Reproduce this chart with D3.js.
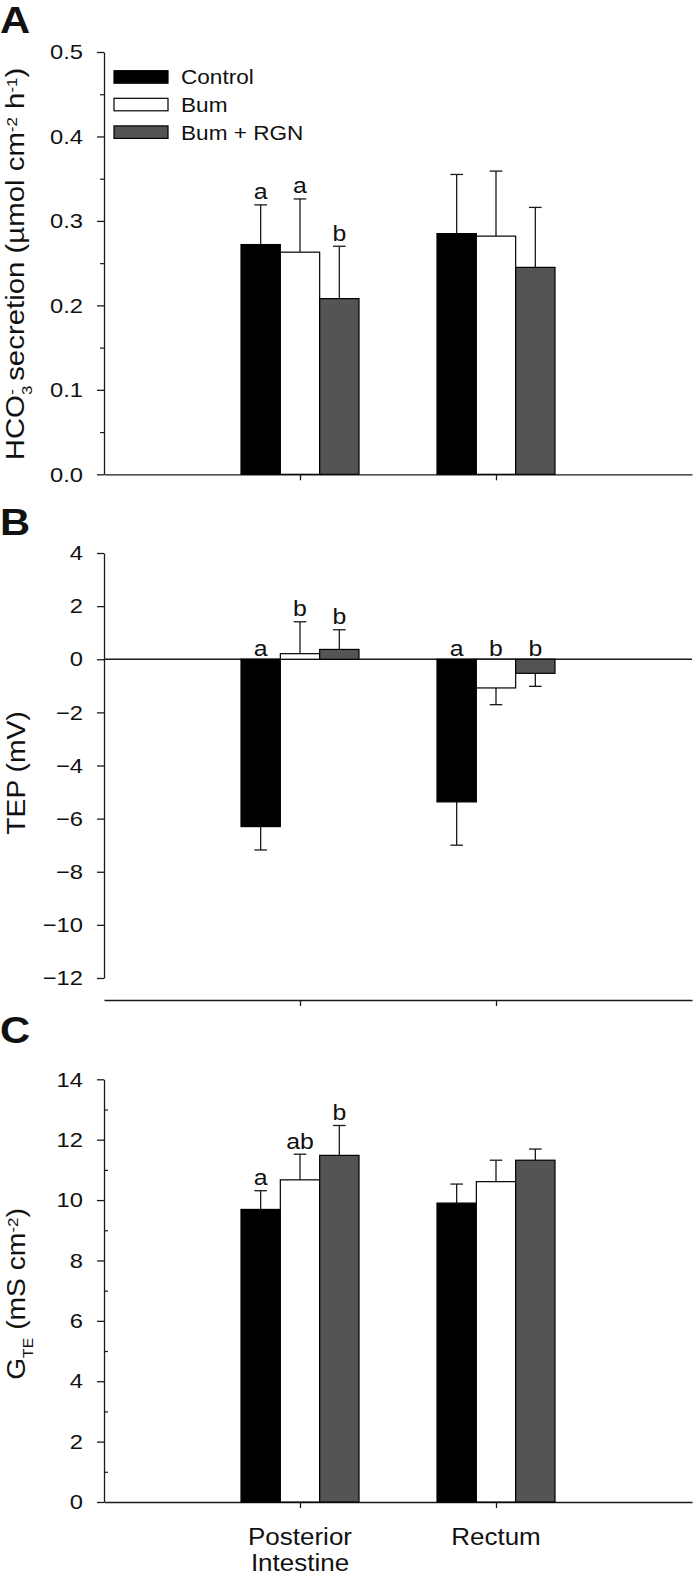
<!DOCTYPE html>
<html>
<head>
<meta charset="utf-8">
<script src="https://d3js.org/d3.v7.min.js"></script>
<style>
  body { margin: 0; background: #fff; }
  text { font-family: "Liberation Sans", Arial, sans-serif; fill: #111; }
</style>
</head>
<body>
<div id="chart"></div>
<script>

// ---- data ----
var categories = ["Posterior Intestine", "Rectum"];
var series = ["Control", "Bum", "Bum + RGN"];
var seriesColors = ["#000000", "#ffffff", "#545454"];

// panel A: HCO3- secretion
var hco3Mean = [[0.272, 0.263, 0.208], [0.285, 0.282, 0.245]];
var hco3Err = [[0.047, 0.063, 0.062], [0.070, 0.077, 0.071]];
var hco3Letters = [["a", "a", "b"], ["", "", ""]];
var hco3Ticks = [0, 0.1, 0.2, 0.3, 0.4, 0.5];
var hco3Minor = [0.05, 0.15, 0.25, 0.35, 0.45];

// panel B: TEP
var tepMean = [[-6.30, 0.21, 0.37], [-5.37, -1.08, -0.53]];
var tepErr = [[0.88, 1.20, 0.74], [1.63, 0.63, 0.49]];
var tepLetters = [["a", "b", "b"], ["a", "b", "b"]];
var tepTicks = [4, 2, 0, -2, -4, -6, -8, -10, -12];

// panel C: GTE
var gteMean = [[9.69, 10.67, 11.48], [9.90, 10.61, 11.32]];
var gteErr = [[0.62, 0.85, 0.99], [0.63, 0.71, 0.37]];
var gteLetters = [["a", "ab", "b"], ["", "", ""]];
var gteTicks = [0, 2, 4, 6, 8, 10, 12, 14];
var gteMinor = [1, 3, 5, 7, 9, 11, 13];

// ---- layout ----
var W = 694, H = 1575;
var K = 1.13;          // the original font is a little wider than Arial
var axisX = 104, rightX = 692;
var ink = "#1a1a1a";

var svg = d3.select("#chart").append("svg")
  .attr("width", W).attr("height", H);

// x: categories sit at 1 and 2 on a 0..3 scale
var xCat = d3.scaleLinear().domain([0, 3]).range([axisX, rightX]);
var xBar = d3.scaleBand().domain(series).range([-59, 59]);

function label(g, x, y, s, size, anchor, rot) {
  return g.append("text")
    .attr("transform", "translate(" + x + "," + y + ")" + (rot ? " rotate(" + rot + ")" : "") + " scale(" + K + ",1)")
    .attr("text-anchor", anchor)
    .style("font-size", size + "px")
    .text(s);
}

function drawPanel(p) {
  var g = svg.append("g");
  var y = d3.scaleLinear().domain(p.domain).range(p.range);

  // minor ticks
  if (p.minor) {
    var mg = g.append("g").attr("transform", "translate(" + axisX + ",0)")
      .call(d3.axisLeft(y).tickValues(p.minor).tickSize(p.minorSize).tickFormat(""));
    mg.select(".domain").remove();
    mg.selectAll("line").attr("stroke", ink).attr("stroke-width", 1.2);
  }

  // major ticks + labels
  var yg = g.append("g").attr("transform", "translate(" + axisX + ",0)")
    .attr("font-size", 21)
    .call(d3.axisLeft(y).tickValues(p.ticks).tickSize(7).tickSizeOuter(0).tickFormat(d3.format(p.fmt)));
  yg.attr("font-size", 21).attr("font-family", null);
  yg.select(".domain").attr("stroke", ink).attr("stroke-width", 1.3);
  yg.selectAll(".tick line").attr("stroke", ink).attr("stroke-width", 1.3);
  yg.selectAll(".tick text")
    .attr("x", -21 / K)
    .attr("transform", "scale(" + K + ",1)")
    .attr("font-size", 21)
    .style("font-size", "21px")
    .attr("fill", "#111");

  // baseline / x axis
  var zeroY = y(0);
  var axisY = p.xAxisY || zeroY;
  var xg = g.append("g").attr("transform", "translate(0," + axisY + ")")
    .call(d3.axisBottom(xCat).tickValues([1, 2]).tickSize(6).tickSizeOuter(0).tickFormat(""));
  xg.select(".domain").attr("stroke", ink).attr("stroke-width", 1.3);
  xg.selectAll(".tick line").attr("stroke", ink).attr("stroke-width", 1.3);
  if (p.xAxisY) {
    g.append("line")
      .attr("x1", axisX).attr("x2", rightX)
      .attr("y1", zeroY).attr("y2", zeroY)
      .attr("stroke", ink).attr("stroke-width", 1.3);
  }

  // bars, error bars, letters
  categories.forEach(function(c, i) {
    var cx = xCat(i + 1);
    series.forEach(function(s, j) {
      var v = p.mean[i][j], e = p.err[i][j];
      var bx = cx + xBar(s), bw = xBar.bandwidth();
      var mid = bx + bw / 2;
      var tip = v >= 0 ? v + e : v - e;

      g.append("line")
        .attr("x1", mid).attr("x2", mid)
        .attr("y1", y(v)).attr("y2", y(tip))
        .attr("stroke", ink).attr("stroke-width", 1.3);
      g.append("line")
        .attr("x1", mid - 6.3).attr("x2", mid + 6.3)
        .attr("y1", y(tip)).attr("y2", y(tip))
        .attr("stroke", ink).attr("stroke-width", 1.3);

      g.append("rect")
        .attr("x", bx).attr("width", bw)
        .attr("y", y(Math.max(0, v)))
        .attr("height", Math.abs(y(v) - zeroY))
        .attr("fill", seriesColors[j])
        .attr("stroke", "#000").attr("stroke-width", 1.2);

      var t = p.letters[i][j];
      if (t) {
        var ly = v >= 0 ? y(tip) - 5.5 : zeroY - 3.5;
        label(g, mid, ly, t, 22, "middle");
      }
    });
  });

  // panel letter
  g.append("text")
    .attr("transform", "translate(0," + p.letterY + ") scale(" + K + ",1)")
    .style("font-size", "37px").style("font-weight", "bold")
    .text(p.key);

  return g;
}

// ---- Panel A ----
var gA = drawPanel({
  key: "A", mean: hco3Mean, err: hco3Err, letters: hco3Letters,
  domain: [0, 0.5], range: [474.3, 52], ticks: hco3Ticks, minor: hco3Minor, minorSize: 4,
  fmt: ".1f", letterY: 33
});
var tA = label(gA, 24, 264, "", 26, "middle", -90);
tA.append("tspan").text("HCO");
tA.append("tspan").attr("baseline-shift", "sub").style("font-size", "15px").text("3");
tA.append("tspan").attr("dx", -8).attr("baseline-shift", "super").style("font-size", "15px").text("-");
tA.append("tspan").text(" secretion (\u00b5mol cm");
tA.append("tspan").attr("baseline-shift", "super").style("font-size", "15px").text("-2");
tA.append("tspan").text(" h");
tA.append("tspan").attr("baseline-shift", "super").style("font-size", "15px").text("-1");
tA.append("tspan").text(")");

// legend
var legend = gA.append("g");
series.forEach(function(s, j) {
  legend.append("rect")
    .attr("x", 114).attr("y", 70.7 + j * 27.6)
    .attr("width", 54).attr("height", 12.5)
    .attr("fill", seriesColors[j]).attr("stroke", "#000").attr("stroke-width", 1.2);
  label(legend, 181, 84.3 + j * 27.6, s, 20, "start");
});

// ---- Panel B ----
var gB = drawPanel({
  key: "B", mean: tepMean, err: tepErr, letters: tepLetters,
  domain: [-12, 4], range: [978, 553], ticks: tepTicks, minor: null,
  fmt: "d", letterY: 535, xAxisY: 1000
});
label(gB, 25, 773, "TEP (mV)", 25, "middle", -90);

// ---- Panel C ----
var gC = drawPanel({
  key: "C", mean: gteMean, err: gteErr, letters: gteLetters,
  domain: [0, 14], range: [1502, 1079.3], ticks: gteTicks, minor: gteMinor, minorSize: -4,
  fmt: "d", letterY: 1043
});
var tC = label(gC, 25, 1294, "", 25, "middle", -90);
tC.append("tspan").text("G");
tC.append("tspan").attr("baseline-shift", "sub").style("font-size", "14px").text("TE");
tC.append("tspan").text(" (mS cm");
tC.append("tspan").attr("baseline-shift", "super").style("font-size", "15px").text("-2");
tC.append("tspan").text(")");

// category labels
label(gC, xCat(1), 1545, "Posterior", 23, "middle");
label(gC, xCat(1), 1571, "Intestine", 23, "middle");
label(gC, xCat(2), 1545, "Rectum", 23, "middle");

</script>
</body>
</html>
